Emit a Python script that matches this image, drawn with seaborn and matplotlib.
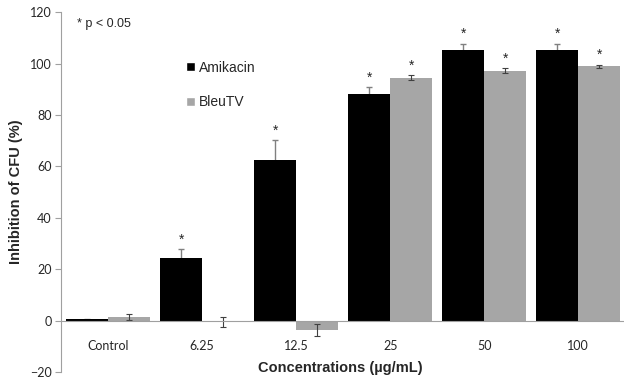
import numpy as np
import pandas as pd
import seaborn as sns
from matplotlib import pyplot as plt
from matplotlib.patches import Patch

# data
concentrations = ["Control", "6.25", "12.5", "25", "50", "100"]
amikacin = [0.5, 24.4, 62.5, 88.0, 105.4, 105.4]
amikacin_err = [0.3, 3.5, 7.6, 2.7, 2.4, 2.4]
bleutv = [1.4, -0.5, -3.6, 94.5, 97.2, 99.0]
bleutv_err = [1.2, 1.9, 2.3, 1.0, 1.0, 0.6]
amikacin_sig = [False, True, True, True, True, True]
bleutv_sig = [False, False, False, True, True, True]

df = pd.DataFrame({
    "conc": concentrations * 2,
    "value": amikacin + bleutv,
    "drug": ["Amikacin"] * 6 + ["BleuTV"] * 6,
})

sns.set_style("white")
plt.rcParams["font.family"] = ["Liberation Sans", "DejaVu Sans"]

fig = plt.figure(figsize=(6.24, 3.8), dpi=100)
ax = fig.add_axes([0.098, 0.021, 0.904, 0.947])

palette = {"Amikacin": "#000000", "BleuTV": "#a6a6a6"}
sns.barplot(data=df, x="conc", y="value", hue="drug", palette=palette,
            width=0.89, errorbar=None, ax=ax, legend=False, zorder=2,
            saturation=1, linewidth=0)

# error bars and significance stars
centers = np.arange(len(concentrations))
bw = 0.89 / 2
x_am = centers - bw / 2
x_bl = centers + bw / 2
ax.errorbar(x_am, amikacin, yerr=amikacin_err, fmt="none", ecolor="#808080",
            elinewidth=1, capsize=2.5, capthick=1, zorder=1)
ax.errorbar(x_bl, bleutv, yerr=bleutv_err, fmt="none", ecolor="#404040",
            elinewidth=0.8, capsize=2.5, capthick=0.8, zorder=3)
for x, v, e, s in zip(x_am, amikacin, amikacin_err, amikacin_sig):
    if s:
        ax.text(x, v + e + 1.0, "*", ha="center", va="bottom", fontsize=10)
for x, v, e, s in zip(x_bl, bleutv, bleutv_err, bleutv_sig):
    if s:
        ax.text(x, v + e + 1.0, "*", ha="center", va="bottom", fontsize=10)

ax.set_ylim(-20, 120)
ax.set_xlim(-0.5, 5.5)
ax.set_yticks(range(-20, 121, 20))
ax.set_xticks(centers)
ax.set_xticklabels(concentrations)
ax.set_xticks(np.arange(0.5, 5.5, 1), minor=True)
ax.tick_params(axis="x", which="major", length=0, pad=14, labelsize=9,
               labelfontfamily="Lato")
ax.tick_params(axis="x", which="minor", length=4, color="#a0a0a0", width=0.8,
               direction="out")
ax.tick_params(axis="y", length=4, color="#a0a0a0", width=0.8, left=True,
               labelsize=9, labelfontfamily="Lato", pad=3)

for side in ["top", "right"]:
    ax.spines[side].set_visible(False)
ax.spines["bottom"].set_position(("data", 0))
ax.spines["bottom"].set_color("#a0a0a0")
ax.spines["bottom"].set_linewidth(0.8)
ax.spines["bottom"].set_zorder(4)
ax.spines["left"].set_color("#a0a0a0")
ax.spines["left"].set_linewidth(0.8)

ax.set_xlabel("Concentrations (\u00b5g/mL)", fontsize=10.5, fontweight="bold")
ax.xaxis.set_label_coords(0.495, 0.03)
ax.set_ylabel("Inhibition of CFU (%)", fontsize=10.5, fontweight="bold",
              labelpad=5)

handles = [Patch(facecolor=palette[k], label=k) for k in ["Amikacin", "BleuTV"]]
ax.legend(handles=handles, loc="upper left", bbox_to_anchor=(0.2, 0.9),
          frameon=False, fontsize=10, handlelength=0.6, handleheight=0.6,
          handletextpad=0.3, labelspacing=1.5)

ax.text(0.028, 0.985, "* p < 0.05", transform=ax.transAxes, fontsize=9,
        ha="left", va="top")

fig.savefig("out.png", dpi=100)
